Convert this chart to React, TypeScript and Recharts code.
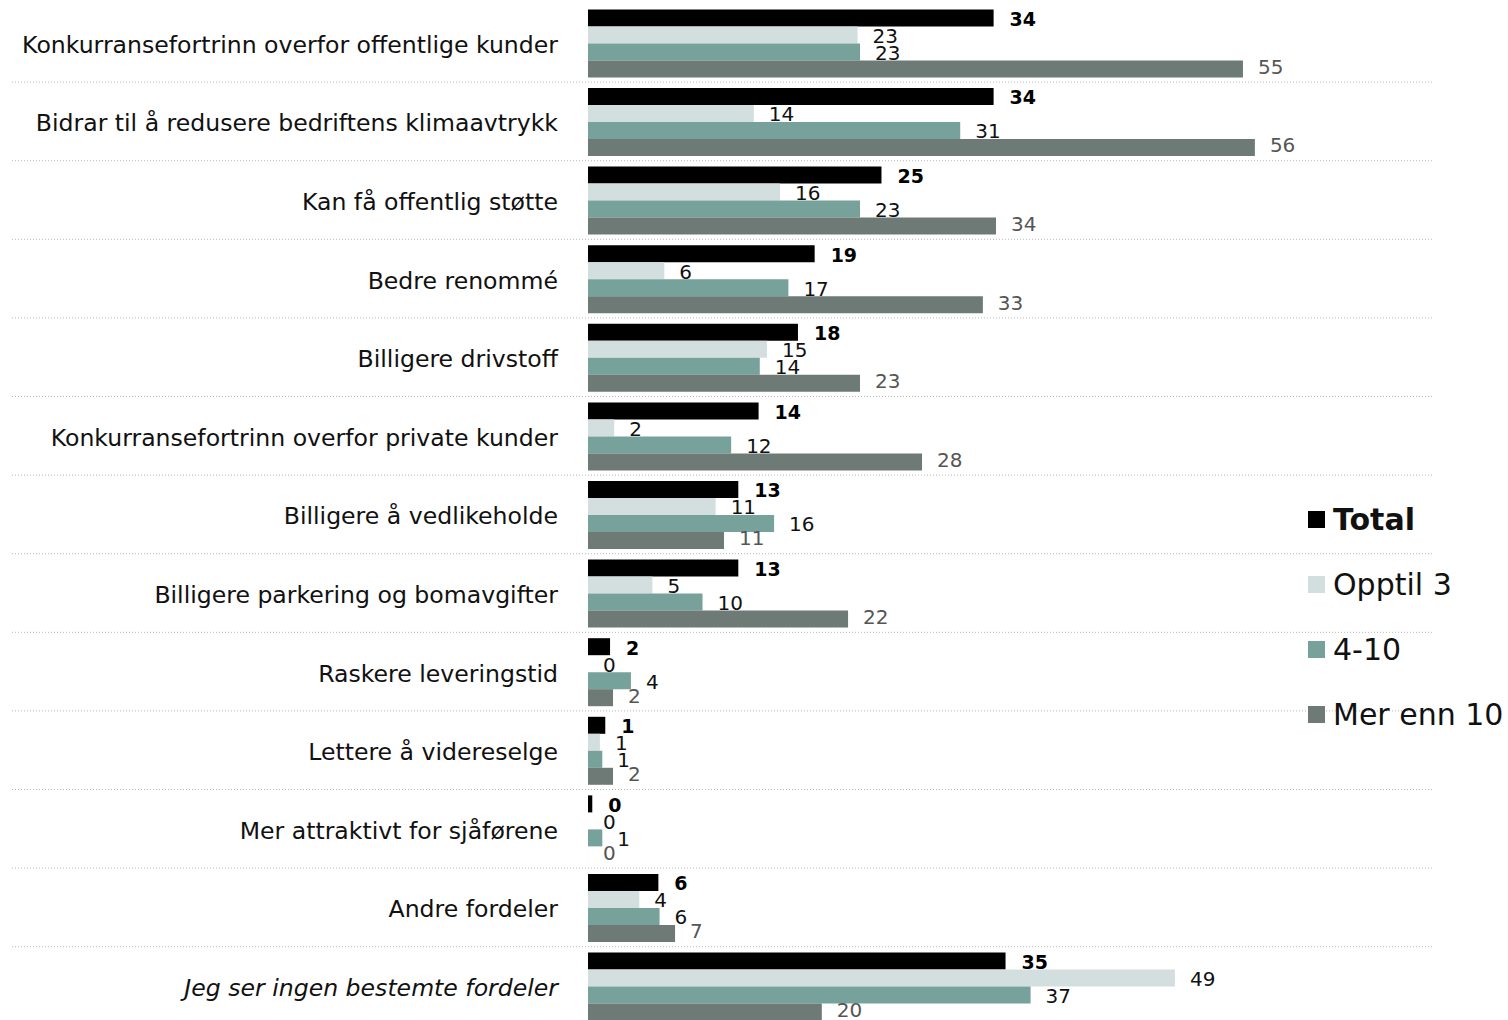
import React from "react";
import { BarChart, Bar, XAxis, YAxis, CartesianGrid, Legend, LabelList } from "recharts";

// Answer categories, top to bottom
const categories = [
  "Konkurransefortrinn overfor offentlige kunder",
  "Bidrar til å redusere bedriftens klimaavtrykk",
  "Kan få offentlig støtte",
  "Bedre renommé",
  "Billigere drivstoff",
  "Konkurransefortrinn overfor private kunder",
  "Billigere å vedlikeholde",
  "Billigere parkering og bomavgifter",
  "Raskere leveringstid",
  "Lettere å videreselge",
  "Mer attraktivt for sjåførene",
  "Andre fordeler",
  "Jeg ser ingen bestemte fordeler",
];

const seriesNames = ["Total", "Opptil 3", "4-10", "Mer enn 10"];

// Percent per group (labels are rounded)
const total = [34.0, 34.0, 24.6, 19.0, 17.6, 14.3, 12.6, 12.6, 1.85, 1.45, 0.36, 5.9, 35.0];
const opptil3 = [22.6, 13.9, 16.1, 6.4, 15.0, 2.2, 10.7, 5.4, 0, 1.0, 0, 4.3, 49.2];
const fire10 = [22.8, 31.2, 22.8, 16.8, 14.4, 12.0, 15.6, 9.6, 3.6, 1.2, 1.2, 6.0, 37.1];
const merEnn10 = [54.9, 55.9, 34.2, 33.1, 22.8, 28.0, 11.4, 21.8, 2.1, 2.1, 0, 7.3, 19.6];

const data = categories.map((name, i) => ({
  name,
  total: total[i],
  opptil3: opptil3[i],
  fire10: fire10[i],
  merEnn10: merEnn10[i],
}));

const FONT = "'DejaVu Sans', sans-serif";

const makeLabel = (color: string, bold: boolean, dx: number, dy: number) => (props: any) => {
  const x = Number(props.x);
  const y = Number(props.y);
  const w = Number(props.width) || 0;
  const h = Number(props.height) || 0;
  return (
    <text
      x={x + w + dx}
      y={y + h / 2 + dy}
      fill={color}
      fontSize={bold ? 19 : 20}
      fontWeight={bold ? 700 : 400}
      fontFamily={FONT}
      dominantBaseline="central"
    >
      {Math.round(Number(props.value))}
    </text>
  );
};

const CategoryTick = (props: any) => {
  const { x, y, payload } = props;
  const last = payload.value === categories[categories.length - 1];
  return (
    <text
      x={x}
      y={y}
      dy={2}
      textAnchor="end"
      dominantBaseline="central"
      fill="#111"
      fontSize={23.6}
      fontFamily={FONT}
      fontStyle={last ? "italic" : "normal"}
    >
      {payload.value}
    </text>
  );
};

const LegendList = (props: any) => {
  const items = [...(props.payload || [])].sort(
    (a: any, b: any) => seriesNames.indexOf(a.value) - seriesNames.indexOf(b.value)
  );
  return (
    <div style={{ fontFamily: FONT }}>
      {items.map((it: any) => (
        <div key={it.value} style={{ display: "flex", alignItems: "center", height: 65 }}>
          <span style={{ width: 17, height: 17, background: it.color, marginRight: 8, display: "inline-block", flexShrink: 0 }} />
          <span style={{ fontSize: 30, color: "#111", whiteSpace: "nowrap", fontWeight: it.value === "Total" ? 700 : 400 }}>{it.value}</span>
        </div>
      ))}
    </div>
  );
};

// dotted separators between the category bands
const gridLines = ({ offset }: any) => {
  const band = offset.height / categories.length;
  return categories.slice(1).map((_, i) => offset.top + band * (i + 1));
};

const App = () => {
  return (
    <div style={{ position: "fixed", top: 0, left: 0, width: 1508, height: 1020, overflow: "hidden", background: "#fff" }}>
      <BarChart
        width={1508}
        height={1025.3}
        data={data}
        layout="vertical"
        margin={{ top: 3.5, right: 75, bottom: 0, left: 12 }}
        barCategoryGap={5.9}
        barGap={0}
      >
        <CartesianGrid
          horizontal
          vertical={false}
          stroke="#b5b5b5"
          strokeDasharray="1 2"
          horizontalCoordinatesGenerator={gridLines}
        />
        <XAxis type="number" hide domain={[-48.28, 70.83]} allowDataOverflow />
        <YAxis
          type="category"
          dataKey="name"
          mirror
          axisLine={false}
          tickLine={false}
          tickSize={0}
          tickMargin={546}
          interval={0}
          tick={<CategoryTick />}
        />
        <Legend
          layout="horizontal"
          align="center"
          verticalAlign="middle"
          content={<LegendList />}
          wrapperStyle={{ left: 1308, top: 487, width: 200 }}
        />
        <Bar dataKey="total" name="Total" fill="#000000" minPointSize={0.01} isAnimationActive={false}>
          <LabelList dataKey="total" content={makeLabel("#000", true, 16, 1)} />
        </Bar>
        <Bar dataKey="opptil3" name="Opptil 3" fill="#d3dfde" minPointSize={0.01} isAnimationActive={false}>
          <LabelList dataKey="opptil3" content={makeLabel("#111", false, 15, 1)} />
        </Bar>
        <Bar dataKey="fire10" name="4-10" fill="#77a19b" minPointSize={0.01} isAnimationActive={false}>
          <LabelList dataKey="fire10" content={makeLabel("#111", false, 15, 1)} />
        </Bar>
        <Bar dataKey="merEnn10" name="Mer enn 10" fill="#6e7a76" minPointSize={0.01} isAnimationActive={false}>
          <LabelList dataKey="merEnn10" content={makeLabel("#555", false, 15, -2)} />
        </Bar>
      </BarChart>
    </div>
  );
};

export default App;
